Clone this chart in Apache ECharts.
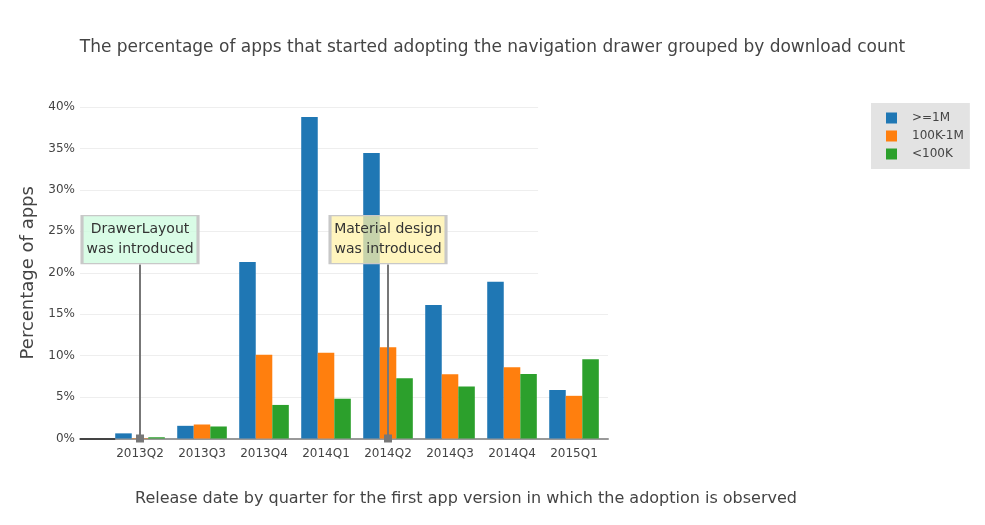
<!DOCTYPE html>
<html>
<head>
<meta charset="utf-8">
<script src="https://cdn.jsdelivr.net/npm/echarts@6/dist/echarts.min.js"></script>
<style>
  html, body { margin: 0; padding: 0; background: #fff; }
  #chart { width: 985px; height: 525px; }
</style>
</head>
<body>
<div id="chart"></div>
<script>
const categories = ['2013Q2', '2013Q3', '2013Q4', '2014Q1', '2014Q2', '2014Q3', '2014Q4', '2015Q1'];
const seriesNames = ['>=1M', '100K-1M', '<100K'];
const bigApps = [0.62, 1.53, 21.3, 38.8, 34.45, 16.1, 18.9, 5.85];
const midApps = [0.05, 1.69, 10.1, 10.35, 11.0, 7.75, 8.6, 5.15];
const smallApps = [0.15, 1.45, 4.05, 4.8, 7.27, 6.26, 7.77, 9.55];
const yTicks = [0, 5, 10, 15, 20, 25, 30, 35, 40];
const annotations = [
  { cat: 0, y: 24.0, bottom: 21.0, text: 'DrawerLayout\nwas introduced', fill: 'rgba(204,251,221,0.75)' },
  { cat: 4, y: 24.0, bottom: 21.0, text: 'Material design\nwas introduced', fill: 'rgba(255,241,168,0.75)' }
];

const colors = ['#1f77b4', '#ff7f0e', '#2ca02c'];
const FONT = 'DejaVu Sans';
const X_MIN = -0.968, X_MAX = 7.548;

const chart = echarts.init(document.getElementById('chart'));

const toPairs = arr => arr.map((v, i) => [i, v]);

// gridlines (upper ones stop short, as in the reference)
const gridLineData = yTicks.filter(t => t > 0).map(t => [
  { coord: [X_MIN, t] },
  { coord: [t >= 20 ? 6.42 : X_MAX, t] }
]);

const barSeries = [bigApps, midApps, smallApps].map((arr, k) => ({
  name: seriesNames[k],
  type: 'bar',
  data: toPairs(arr),
  barCategoryGap: '20%',
  barGap: '0%',
  itemStyle: { color: colors[k] },
  z: 3
}));

const option = {
  animation: false,
  textStyle: { fontFamily: FONT },
  title: [
    {
      text: 'The percentage of apps that started adopting the navigation drawer grouped by download count',
      left: 'center',
      top: 34,
      textStyle: { fontFamily: FONT, fontSize: 17, fontWeight: 'normal', color: '#444' }
    },
    {
      text: 'Release date by quarter for the first app version in which the adoption is observed',
      left: 461,
      textAlign: 'center',
      top: 486,
      textStyle: { fontFamily: FONT, fontSize: 16, fontWeight: 'normal', color: '#444' }
    }
  ],
  legend: {
    data: seriesNames,
    orient: 'vertical',
    left: 871,
    top: 103,
    backgroundColor: '#e3e3e3',
    padding: [9, 6, 9, 15],
    itemWidth: 11,
    itemHeight: 11,
    itemGap: 6,
    icon: 'rect',
    textStyle: { fontFamily: FONT, fontSize: 12, color: '#444', padding: [0, 0, 0, 10] }
  },
  grid: { left: 80, top: 107, width: 528, height: 331.5 },
  xAxis: {
    type: 'value',
    min: X_MIN,
    max: X_MAX,
    splitLine: { show: false },
    axisTick: { show: false },
    axisLine: { show: true, lineStyle: { color: '#999', width: 2 } },
    axisLabel: {
      customValues: categories.map((c, i) => i),
      formatter: v => categories[Math.round(v)] || '',
      margin: 9,
      fontFamily: FONT,
      fontSize: 12,
      color: '#444'
    }
  },
  yAxis: {
    type: 'value',
    min: 0,
    max: 40,
    interval: 5,
    name: 'Percentage of apps',
    nameLocation: 'middle',
    nameGap: 42,
    nameTextStyle: { fontFamily: FONT, fontSize: 18, color: '#444' },
    axisLine: { show: false },
    axisTick: { show: false },
    splitLine: { show: false },
    axisLabel: { formatter: '{value}%', margin: 5, fontFamily: FONT, fontSize: 12, color: '#444' }
  },
  series: [
    {
      name: 'grid-helper',
      type: 'line',
      data: [],
      symbol: 'none',
      silent: true,
      z: 1,
      markLine: {
        silent: true,
        z: 1,
        symbol: ['none', 'none'],
        label: { show: false },
        lineStyle: { color: '#eee', width: 1, type: 'solid' },
        data: gridLineData
      }
    },
    ...barSeries,
    {
      name: 'zero-helper',
      type: 'line',
      data: [],
      symbol: 'none',
      silent: true,
      z: 2,
      markLine: {
        silent: true,
        z: 2,
        symbol: ['none', 'none'],
        label: { show: false },
        lineStyle: { color: '#444', width: 2, type: 'solid' },
        data: [[{ coord: [X_MIN, 0] }, { coord: [-0.4, 0] }]]
      }
    },
    {
      name: 'annotation-helper',
      type: 'line',
      data: [],
      symbol: 'none',
      silent: true,
      z: 10,
      markLine: {
        silent: true,
        z: 10,
        symbol: ['none', 'rect'],
        symbolSize: 8,
        label: { show: false },
        lineStyle: { color: '#777', width: 2, type: 'solid' },
        itemStyle: { color: '#777' },
        data: annotations.map(a => [
          { coord: [a.cat, a.bottom] },
          { coord: [a.cat, 0] }
        ])
      },
      markPoint: {
        silent: true,
        z: 11,
        data: annotations.map(a => ({
          coord: [a.cat, a.y],
          symbol: 'rect',
          symbolSize: [116, 48],
          itemStyle: { color: a.fill, borderColor: '#c8c8c8', borderWidth: 2 },
          label: {
            show: true,
            position: 'inside',
            formatter: a.text,
            fontFamily: FONT,
            fontSize: 14,
            lineHeight: 20,
            color: '#333'
          }
        }))
      }
    }
  ]
};

chart.setOption(option);
</script>
</body>
</html>
